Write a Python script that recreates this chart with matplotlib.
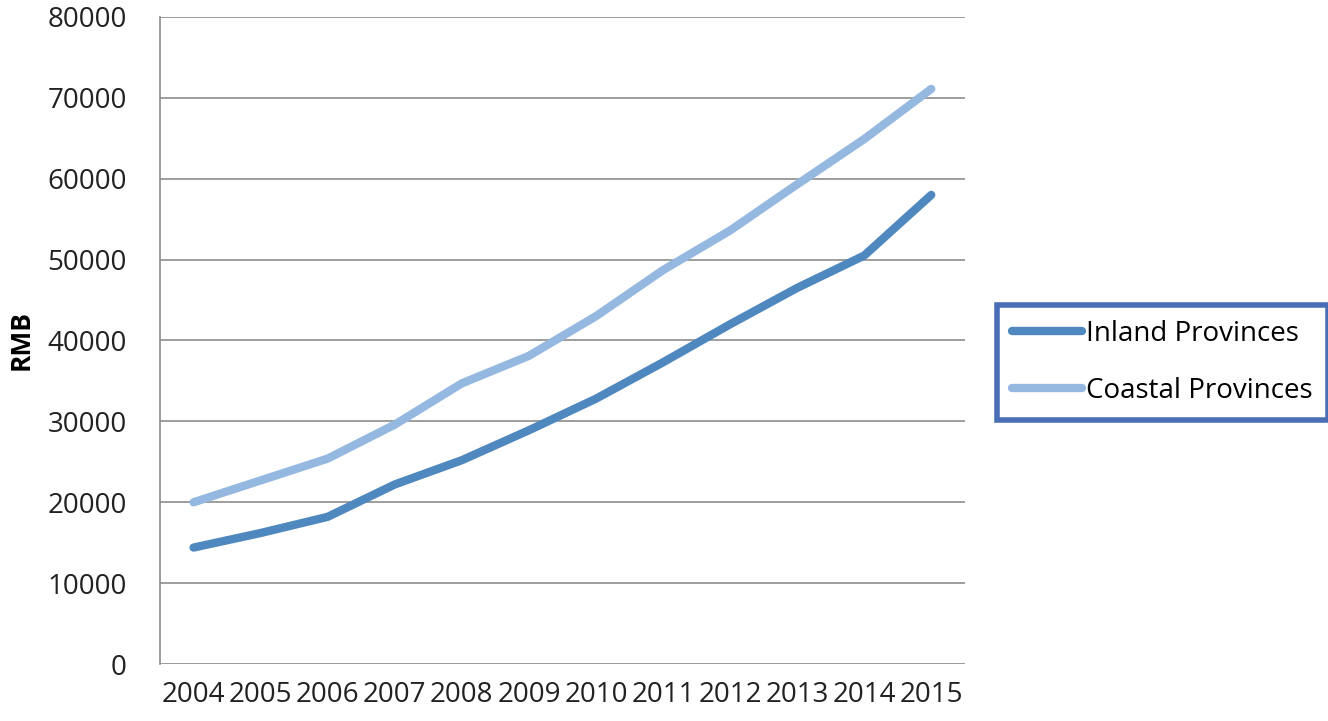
import numpy as np
import matplotlib
matplotlib.use("Agg")
import matplotlib.pyplot as plt

years = ['2004', '2005', '2006', '2007', '2008', '2009', '2010', '2011', '2012', '2013', '2014', '2015']
inland = [14400, 16200, 18200, 22200, 25200, 28900, 32800, 37300, 42000, 46500, 50500, 58000]
coastal = [20000, 22700, 25400, 29600, 34700, 38100, 43000, 48700, 53600, 59300, 64900, 71100]

plt.rcParams['font.family'] = ['Open Sans', 'DejaVu Sans']

fig = plt.figure(figsize=(13.28, 7.21), dpi=100)
ax = fig.add_axes([0.1205, 0.079, 0.606, 0.8975])

x = np.arange(len(years))
ax.plot(x, inland, color='#4F88BF', lw=6, solid_capstyle='round', label='Inland Provinces')
ax.plot(x, coastal, color='#95B8E0', lw=6, solid_capstyle='round', label='Coastal Provinces')

ax.set_xlim(-0.5, len(years) - 0.5)
ax.set_ylim(0, 80000)
ax.set_yticks(range(0, 80001, 10000))
ax.set_xticks(x)
ax.set_xticklabels(years)
ax.tick_params(axis='both', labelsize=20, length=0, colors='#222222')
ax.tick_params(axis='x', pad=12)
ax.tick_params(axis='y', pad=24)
ax.grid(axis='y', color='#8c8c8c', lw=1.2)
ax.set_axisbelow(True)
for s in ['top', 'right', 'bottom']:
    ax.spines[s].set_visible(False)
ax.spines['left'].set_color('#8c8c8c')
ax.spines['left'].set_linewidth(1.2)
ax.set_ylabel('RMB', fontsize=19, fontweight='bold', labelpad=9)

leg = ax.legend(loc='center left', bbox_to_anchor=(1.04, 0.466), fontsize=20, frameon=True,
                fancybox=False, framealpha=1, handlelength=2.5, labelspacing=1.05,
                borderpad=0.55, handletextpad=0.15, borderaxespad=0)
leg.get_frame().set_edgecolor('#4A6EB6')
leg.get_frame().set_linewidth(4)

fig.savefig('out.png', dpi=100)
